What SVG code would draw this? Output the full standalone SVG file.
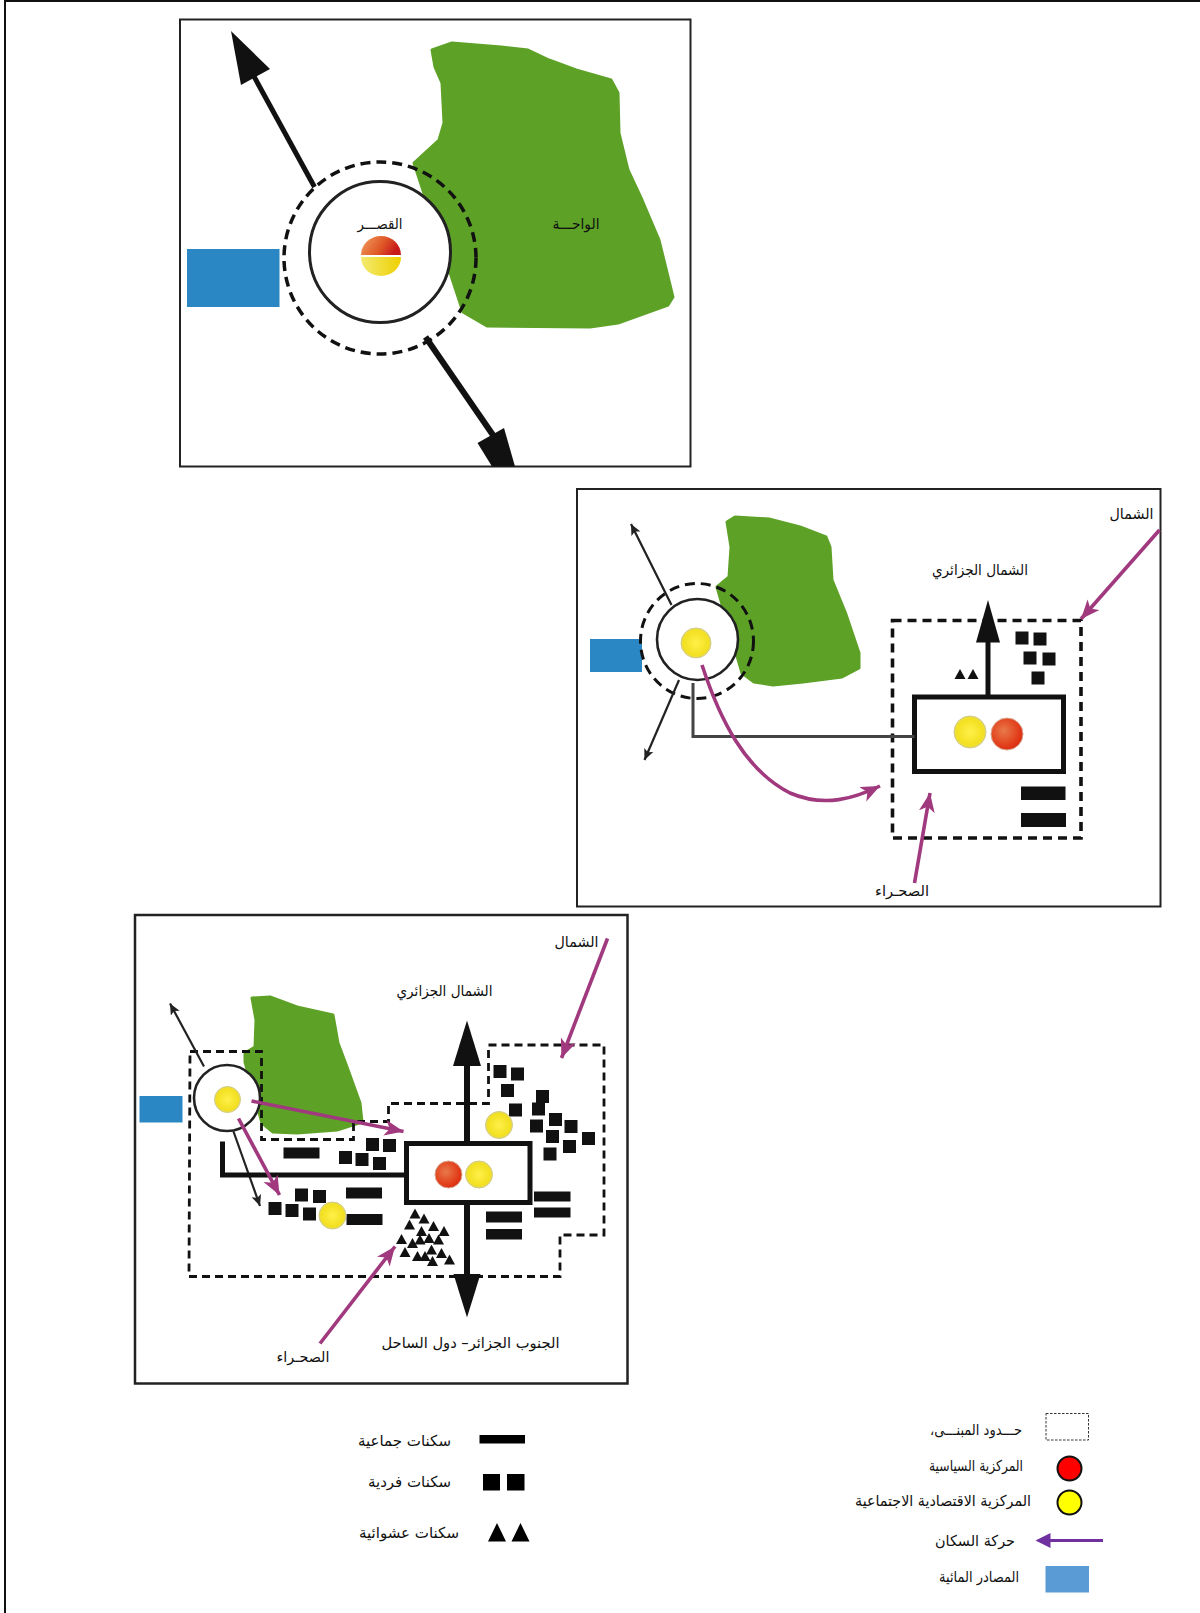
<svg xmlns="http://www.w3.org/2000/svg" width="1200" height="1613" viewBox="0 0 1200 1613">
<style>
text{font-family:"DejaVu Sans",sans-serif;font-size:15px;fill:#111;text-anchor:middle;direction:rtl}
.panel{fill:#fff;stroke:#222;stroke-width:2}
.green{fill:#5da127;stroke:#5da127;stroke-width:3;stroke-linejoin:round}
.water{fill:#2b87c3}
.dash{fill:none;stroke:#111;stroke-width:3.600;stroke-dasharray:9 6}
.dashc{fill:none;stroke:#111;stroke-width:3.500;stroke-dasharray:10 6}
.dash3{fill:none;stroke:#111;stroke-width:2.800;stroke-dasharray:8 5}
.ring{fill:#fff;stroke:#222;stroke-width:2.600}
.box{fill:#fff;stroke:#111;stroke-width:5}
.big{fill:none;stroke:#111;stroke-width:6}
.thin{fill:none;stroke:#222;stroke-width:2.200;marker-end:url(#hk)}
.purple{fill:none;stroke:#a0397e;stroke-width:3.600;marker-end:url(#hp)}
.link{fill:none;stroke:#444;stroke-width:3}
.link2{fill:none;stroke:#111;stroke-width:5}
.head{fill:#111}
.solid{fill:#111}
.y{fill:url(#gy);stroke:#cfc98a;stroke-width:1}
.r{fill:url(#gr);stroke:#d8a890;stroke-width:1}
</style>
<defs>
<radialGradient id="gy" cx="0.5" cy="0.5" r="0.55"><stop offset="0" stop-color="#fff04a"/><stop offset="0.75" stop-color="#f2e020"/><stop offset="1" stop-color="#e6dc70"/></radialGradient>
<radialGradient id="gr" cx="0.4" cy="0.4" r="0.65"><stop offset="0" stop-color="#e8794a"/><stop offset="0.7" stop-color="#e2401c"/><stop offset="1" stop-color="#d92a10"/></radialGradient>
<linearGradient id="gh" x1="0" x2="1" y1="0" y2="0.300"><stop offset="0" stop-color="#f0a060"/><stop offset="0.600" stop-color="#e05a28"/><stop offset="1" stop-color="#c8191a"/></linearGradient>
<linearGradient id="gl" x1="0" x2="1" y1="0" y2="0"><stop offset="0" stop-color="#f3ea70"/><stop offset="1" stop-color="#eed000"/></linearGradient>
<marker id="hp" markerUnits="userSpaceOnUse" markerWidth="24" markerHeight="18" refX="19" refY="8" orient="auto"><path d="M0 0L19 8L0 16L5 8Z" fill="#a0397e"/></marker>
<marker id="hk" markerUnits="userSpaceOnUse" markerWidth="14" markerHeight="12" refX="11" refY="5" orient="auto"><path d="M0 0L11 5L0 10L2.500 5Z" fill="#222"/></marker>
<rect id="sq" x="-6.500" y="-6.500" width="13" height="13" fill="#111"/>
<path id="tr" d="M0 -5.500L5.500 4.500H-5.500Z" fill="#111"/>
</defs>
<rect width="1200" height="1613" fill="#fff"/>
<g id="frame"><path d="M5 1613V1H1200" fill="none" stroke="#111" stroke-width="2"/></g>

<g id="panel-1">
<rect class="panel" x="180" y="19.500" width="510.500" height="447"/>
<g id="oasis-1"><path class="green" d="M432 50L452 43L501 47L528 50L549 60L576 70L611 80L618 93L619 133L628 170L642 200L659 240L673 297L668 305L618 323L590 327L487 326L463 312L414 163L439 140L444 123L442 83L435 67Z"/></g>
<g id="water-1"><rect class="water" x="187" y="249" width="92.500" height="58"/></g>
<g id="ksar-1">
<ellipse class="dashc" cx="380" cy="258" rx="96" ry="96"/>
<circle class="ring" style="stroke-width:3" cx="380" cy="252" r="70.500"/>
<path d="M361 255a20 19 0 0 1 40 0Z" fill="url(#gh)"/>
<path d="M361 257a20 19 0 0 0 40 0Z" fill="url(#gl)"/>
<text x="380" y="229" textLength="45" lengthAdjust="spacingAndGlyphs">القصـــر</text>
</g>
<g id="oasis-label-1"><text x="576" y="229" textLength="47" lengthAdjust="spacingAndGlyphs">الواحـــة</text></g>
<g id="connectors-1">
<path class="big" style="stroke-width:5" d="M314.500 187L245 60"/>
<path class="head" d="M231 31L270 69L241 85Z"/>
<path class="big" d="M425.500 337L495 438"/>
<path class="head" d="M515 466.500L504 428L477.500 443L492 466.500Z"/>
</g>
</g>

<g id="panel-2">
<rect class="panel" x="577" y="489" width="583.500" height="417.500"/>
<g id="oasis-2"><path class="green" d="M727 522L735 517L769 519L800 527L826 537L830 547L832 580L845.500 613L859 653L859 668L842 677L803 682L773 685L754 682L742 673L717 587L729 577L731 547Z"/></g>
<g id="water-2"><rect class="water" x="590" y="639" width="52" height="33"/></g>
<g id="ksar-2">
<ellipse class="dashc" style="stroke-width:3" cx="697" cy="641" rx="56.500" ry="57.500"/>
<circle class="ring" cx="697.500" cy="639.500" r="40.500"/>
<circle class="y" cx="696" cy="643" r="15"/>
</g>
<g id="boundary-2"><rect class="dash" x="892.500" y="620.500" width="188.500" height="217.500"/></g>
<g id="center-2">
<rect class="box" x="914.500" y="697" width="149" height="74.500"/>
<circle class="y" cx="970" cy="732" r="16"/>
<circle class="r" cx="1007" cy="734" r="16"/>
</g>
<g id="housing-2">
<use href="#sq" x="1022" y="638"/><use href="#sq" x="1040" y="639"/><use href="#sq" x="1030" y="658"/><use href="#sq" x="1049" y="659"/><use href="#sq" x="1038" y="678"/>
<use href="#tr" x="960" y="674.500"/><use href="#tr" x="973" y="674.500"/>
<rect class="solid" x="1021" y="786.500" width="44.500" height="13.500"/>
<rect class="solid" x="1021" y="813" width="45" height="14"/>
</g>
<g id="connectors-2">
<path class="thin" d="M671.500 605L631 524"/>
<path class="thin" d="M679 680L644.500 760"/>
<path class="link" d="M693 683V736.500H914.500"/>
<path class="big" style="stroke-width:5" d="M988 697V630"/>
<path class="head" d="M988 600L1000 642.500H976Z"/>
<path class="purple" d="M1159.500 530L1081 619"/>
<path class="purple" d="M702 665C720 720 745 770 790 793C825 808 855 798 880 786"/>
<path class="purple" d="M914.500 883L930 793"/>
</g>
<g id="labels-2">
<text x="1131.500" y="519" textLength="44" lengthAdjust="spacingAndGlyphs">الشمال</text>
<text x="980" y="575" textLength="96" lengthAdjust="spacingAndGlyphs">الشمال الجزائري</text>
<text x="902" y="896" textLength="54" lengthAdjust="spacingAndGlyphs">الصحـراء</text>
</g>
</g>

<g id="panel-3">
<rect class="panel" style="stroke-width:2.500" x="135" y="915" width="492.500" height="468.500"/>
<g id="oasis-3"><path class="green" d="M252 998L270 997L297 1007L333 1015L338 1043L347 1067L360 1103L362 1122L337 1130L297 1133L273 1132L262 1123L245 1062L245 1053L255 1047L256 1020Z"/></g>
<g id="water-3"><rect class="water" x="139.500" y="1096" width="43" height="26.500"/></g>
<g id="boundary-3"><path class="dash3" d="M190 1051.500H261.500V1139.500H353.500V1121.500H388.500V1103.500H488.500V1045H604V1235H560V1276.500H189Z"/></g>
<g id="ksar-3">
<circle class="ring" cx="227" cy="1098" r="33"/>
<circle class="y" cx="227.500" cy="1099.500" r="13"/>
</g>
<g id="center-3">
<rect class="box" x="406.500" y="1143.500" width="123.500" height="59"/>
<circle class="r" cx="448.500" cy="1174.500" r="13.500"/>
<circle class="y" cx="479" cy="1174.500" r="13.500"/>
</g>
<g id="housing-3">
<use href="#sq" x="500" y="1071.500"/><use href="#sq" x="517.500" y="1074"/><use href="#sq" x="507.500" y="1090.500"/><use href="#sq" x="515.500" y="1110"/><use href="#sq" x="542.500" y="1096.500"/><use href="#sq" x="538.500" y="1109"/><use href="#sq" x="536.500" y="1126"/><use href="#sq" x="555.500" y="1119.500"/><use href="#sq" x="571" y="1126.500"/><use href="#sq" x="552.500" y="1136.500"/><use href="#sq" x="588.500" y="1138.500"/><use href="#sq" x="569.500" y="1146.500"/><use href="#sq" x="550" y="1154"/>
<use href="#sq" x="372.500" y="1144.500"/><use href="#sq" x="389.500" y="1145.500"/><use href="#sq" x="345.500" y="1157.500"/><use href="#sq" x="362" y="1159.500"/><use href="#sq" x="379.500" y="1163.500"/>
<use href="#sq" x="301.500" y="1195"/><use href="#sq" x="319.500" y="1196.500"/><use href="#sq" x="275" y="1208.500"/><use href="#sq" x="292" y="1210.500"/><use href="#sq" x="309.500" y="1214"/>
<rect class="solid" x="283.500" y="1147.500" width="36" height="11"/>
<rect class="solid" x="346" y="1187.500" width="36" height="11"/>
<rect class="solid" x="346.500" y="1214" width="36" height="11"/>
<rect class="solid" x="534" y="1191.500" width="36.500" height="10"/>
<rect class="solid" x="534" y="1207.500" width="36.500" height="10"/>
<rect class="solid" x="486" y="1211.500" width="36" height="11"/>
<rect class="solid" x="486" y="1229" width="36" height="10.500"/>
<use href="#tr" x="415" y="1214"/><use href="#tr" x="424" y="1219"/><use href="#tr" x="409.500" y="1225"/><use href="#tr" x="421.500" y="1231.500"/><use href="#tr" x="433.500" y="1226.500"/><use href="#tr" x="444" y="1231.500"/><use href="#tr" x="401.500" y="1239.500"/><use href="#tr" x="412.500" y="1243.500"/><use href="#tr" x="420" y="1240"/><use href="#tr" x="429" y="1238.500"/><use href="#tr" x="438.500" y="1240"/><use href="#tr" x="405" y="1252.500"/><use href="#tr" x="417.500" y="1256.500"/><use href="#tr" x="425" y="1256.500"/><use href="#tr" x="432.500" y="1261.500"/><use href="#tr" x="441.500" y="1253.500"/><use href="#tr" x="449.500" y="1260"/><use href="#tr" x="431.500" y="1250"/>
<circle class="y" cx="499" cy="1125" r="13.500"/>
<circle class="y" cx="332.500" cy="1215.500" r="13.500"/>
</g>
<g id="connectors-3">
<path class="thin" d="M204 1066.500L170 1003.500"/>
<path class="thin" d="M233.500 1131.500L260 1206"/>
<path class="link2" d="M222.500 1141.500V1175H406.500"/>
<path class="big" d="M467 1143V1060"/>
<path class="head" d="M467 1020.500L481 1066H453Z"/>
<path class="big" d="M467 1203V1280"/>
<path class="head" d="M467 1317.500L480.500 1274H453.500Z"/>
<path class="purple" d="M607.500 938.500L561.500 1058"/>
<path class="purple" d="M251.500 1101L403.500 1131.500"/>
<path class="purple" d="M238.500 1118.500L279.500 1195"/>
<path class="purple" d="M320 1343.500L395 1246.500"/>
</g>
<g id="labels-3">
<text x="576.500" y="947" textLength="44" lengthAdjust="spacingAndGlyphs">الشمال</text>
<text x="444.500" y="996" textLength="96" lengthAdjust="spacingAndGlyphs">الشمال الجزائري</text>
<text x="470.500" y="1348" textLength="178" lengthAdjust="spacingAndGlyphs">الجنوب الجزائر– دول الساحل</text>
<text x="303" y="1362" textLength="53" lengthAdjust="spacingAndGlyphs">الصحـراء</text>
</g>
</g>

<g id="legend">
<g id="legend-boundary"><rect x="1046" y="1413.500" width="42.500" height="26.500" fill="none" stroke="#333" stroke-width="1" stroke-dasharray="2.500 1.500"/><text x="976" y="1435" textLength="92" lengthAdjust="spacingAndGlyphs">حـــدود المبنـــى،</text></g>
<g id="legend-political"><circle cx="1069.500" cy="1468.500" r="12" fill="#f00" stroke="#111" stroke-width="2"/><text x="976" y="1471" textLength="94" lengthAdjust="spacingAndGlyphs">المركزية السياسية</text></g>
<g id="legend-economic"><circle cx="1069.500" cy="1502.500" r="12" fill="#ff0" stroke="#111" stroke-width="2"/><text x="943" y="1506" textLength="176" lengthAdjust="spacingAndGlyphs">المركزية الاقتصادية الاجتماعية</text></g>
<g id="legend-movement"><path d="M1103 1540.500H1048" stroke="#7030a0" stroke-width="3" fill="none"/><path d="M1035.500 1540.500L1050.500 1533V1548Z" fill="#7030a0"/><text x="975" y="1546" textLength="80" lengthAdjust="spacingAndGlyphs">حركة السكان</text></g>
<g id="legend-water"><rect x="1045.500" y="1566" width="43.500" height="26.500" fill="#5b9bd5"/><text x="979" y="1582" textLength="80" lengthAdjust="spacingAndGlyphs">المصادر المائية</text></g>
<g id="legend-collective"><rect x="479.500" y="1435" width="45.500" height="8.500" fill="#000"/><text x="404.500" y="1446" textLength="93" lengthAdjust="spacingAndGlyphs">سكنات جماعية</text></g>
<g id="legend-individual"><rect x="483" y="1474" width="17" height="16.500" fill="#000"/><rect x="507" y="1474" width="17.500" height="16.500" fill="#000"/><text x="409.500" y="1487" textLength="83" lengthAdjust="spacingAndGlyphs">سكنات فردية</text></g>
<g id="legend-random"><path d="M497 1523L506 1541.500H488ZM520.500 1523L529.500 1541.500H511.500Z" fill="#000"/><text x="409" y="1537.500" textLength="100" lengthAdjust="spacingAndGlyphs">سكنات عشوائية</text></g>
</g>
</svg>
